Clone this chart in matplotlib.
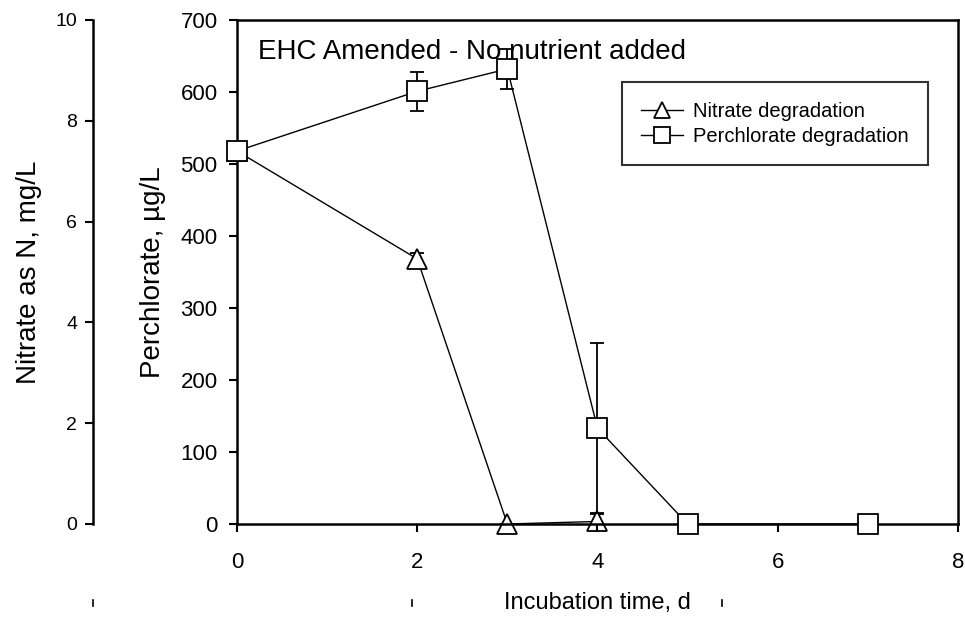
import matplotlib
matplotlib.use('Agg')
import matplotlib.pyplot as plt
from matplotlib.lines import Line2D

plt.rcParams['font.family'] = ['Liberation Sans', 'DejaVu Sans']

# -----------------------------------------------------------------------
# Data
# -----------------------------------------------------------------------
days_perc   = [0, 2, 3, 4, 5, 7]
perchlorate = [518, 601, 632, 133, 0, 0]        # ug/L
perc_err    = [8, 27, 28, 118, 0, 0]

days_nit    = [0, 2, 3, 4]
nitrate     = [7.4, 5.26, 0.0, 0.05]            # mg/L as N
nit_err     = [0.1, 0.12, 0.0, 0.15]

TITLE = "EHC Amended - No nutrient added"


def unclip(container):
    # let markers sit on the axes edges without being cut off
    line, caps, bars = container.lines
    if line is not None:
        line.set_clip_on(False)
    for art in list(caps) + list(bars):
        art.set_clip_on(False)


# -----------------------------------------------------------------------
# Figure
# -----------------------------------------------------------------------
fig = plt.figure(figsize=(9.65, 6.21), dpi=100)
ax = fig.add_axes([0.2456, 0.1562, 0.7471, 0.8116])

# nitrate on its own scale, spine moved out to the left
axn = ax.twinx()
c_nit = axn.errorbar(days_nit, nitrate, yerr=nit_err, color='black', lw=1.0,
                     marker='^', ms=14, mfc='white', mec='black', mew=1.3,
                     capsize=5, elinewidth=1.3, capthick=1.3, zorder=3)
unclip(c_nit)
axn.set_ylim(0, 10)
axn.set_yticks(range(0, 11, 2))
axn.yaxis.set_label_position('left')
axn.yaxis.set_ticks_position('left')
axn.spines['left'].set_position(('outward', 104))
axn.spines['left'].set_visible(True)
axn.spines['left'].set_linewidth(1.8)
for s in ('right', 'top', 'bottom'):
    axn.spines[s].set_visible(False)
axn.tick_params(axis='y', direction='out', length=6, width=1.5, pad=5,
                labelsize=14, colors='black')
axn.set_ylabel("Nitrate as N, mg/L", fontsize=20)
axn.yaxis.set_label_coords(-0.27, 0.5)

# perchlorate drawn on top of the nitrate series
ax.set_zorder(axn.get_zorder() + 1)
ax.patch.set_visible(False)
c_perc = ax.errorbar(days_perc, perchlorate, yerr=perc_err, color='black',
                     lw=1.0, marker='s', ms=14, mfc='white', mec='black',
                     mew=1.3, capsize=5, elinewidth=1.3, capthick=1.3,
                     zorder=3)
unclip(c_perc)
ax.set_xlim(0, 8)
ax.set_ylim(0, 700)
ax.set_xticks([0, 2, 4, 6, 8])
ax.set_yticks(range(0, 701, 100))
ax.tick_params(axis='both', direction='out', length=6, width=1.5,
               labelsize=16, colors='black')
ax.tick_params(axis='x', pad=14)
ax.tick_params(axis='y', pad=8)
for sp in ax.spines.values():
    sp.set_linewidth(1.8)
ax.set_xlabel("Incubation time, d", fontsize=17)
ax.xaxis.set_label_coords(0.5, -0.134)
ax.set_ylabel("Perchlorate, \u00b5g/L", fontsize=20)
ax.yaxis.set_label_coords(-0.098, 0.5)

ax.text(0.029, 0.963, TITLE, transform=ax.transAxes, fontsize=20,
        ha='left', va='top')

handles = [
    Line2D([], [], color='black', lw=1.0, marker='^', ms=11,
           mfc='white', mec='black', mew=1.3),
    Line2D([], [], color='black', lw=1.0, marker='s', ms=11,
           mfc='white', mec='black', mew=1.3),
]
leg = ax.legend(handles, ['Nitrate degradation', 'Perchlorate degradation'],
                loc='upper left', bbox_to_anchor=(0.534, 0.876),
                fontsize=14.5, frameon=True, fancybox=False,
                edgecolor='black', handlelength=2.1, handletextpad=0.5,
                borderpad=0.95, labelspacing=0.3, borderaxespad=0)
leg.get_frame().set_linewidth(1.5)

# scanner specks along the bottom edge
for xf in (93 / 965, 412 / 965, 722 / 965):
    fig.add_artist(Line2D([xf, xf], [0.024, 0.034], color='black', lw=1.2,
                          transform=fig.transFigure))

fig.savefig('out.png', dpi=100)
